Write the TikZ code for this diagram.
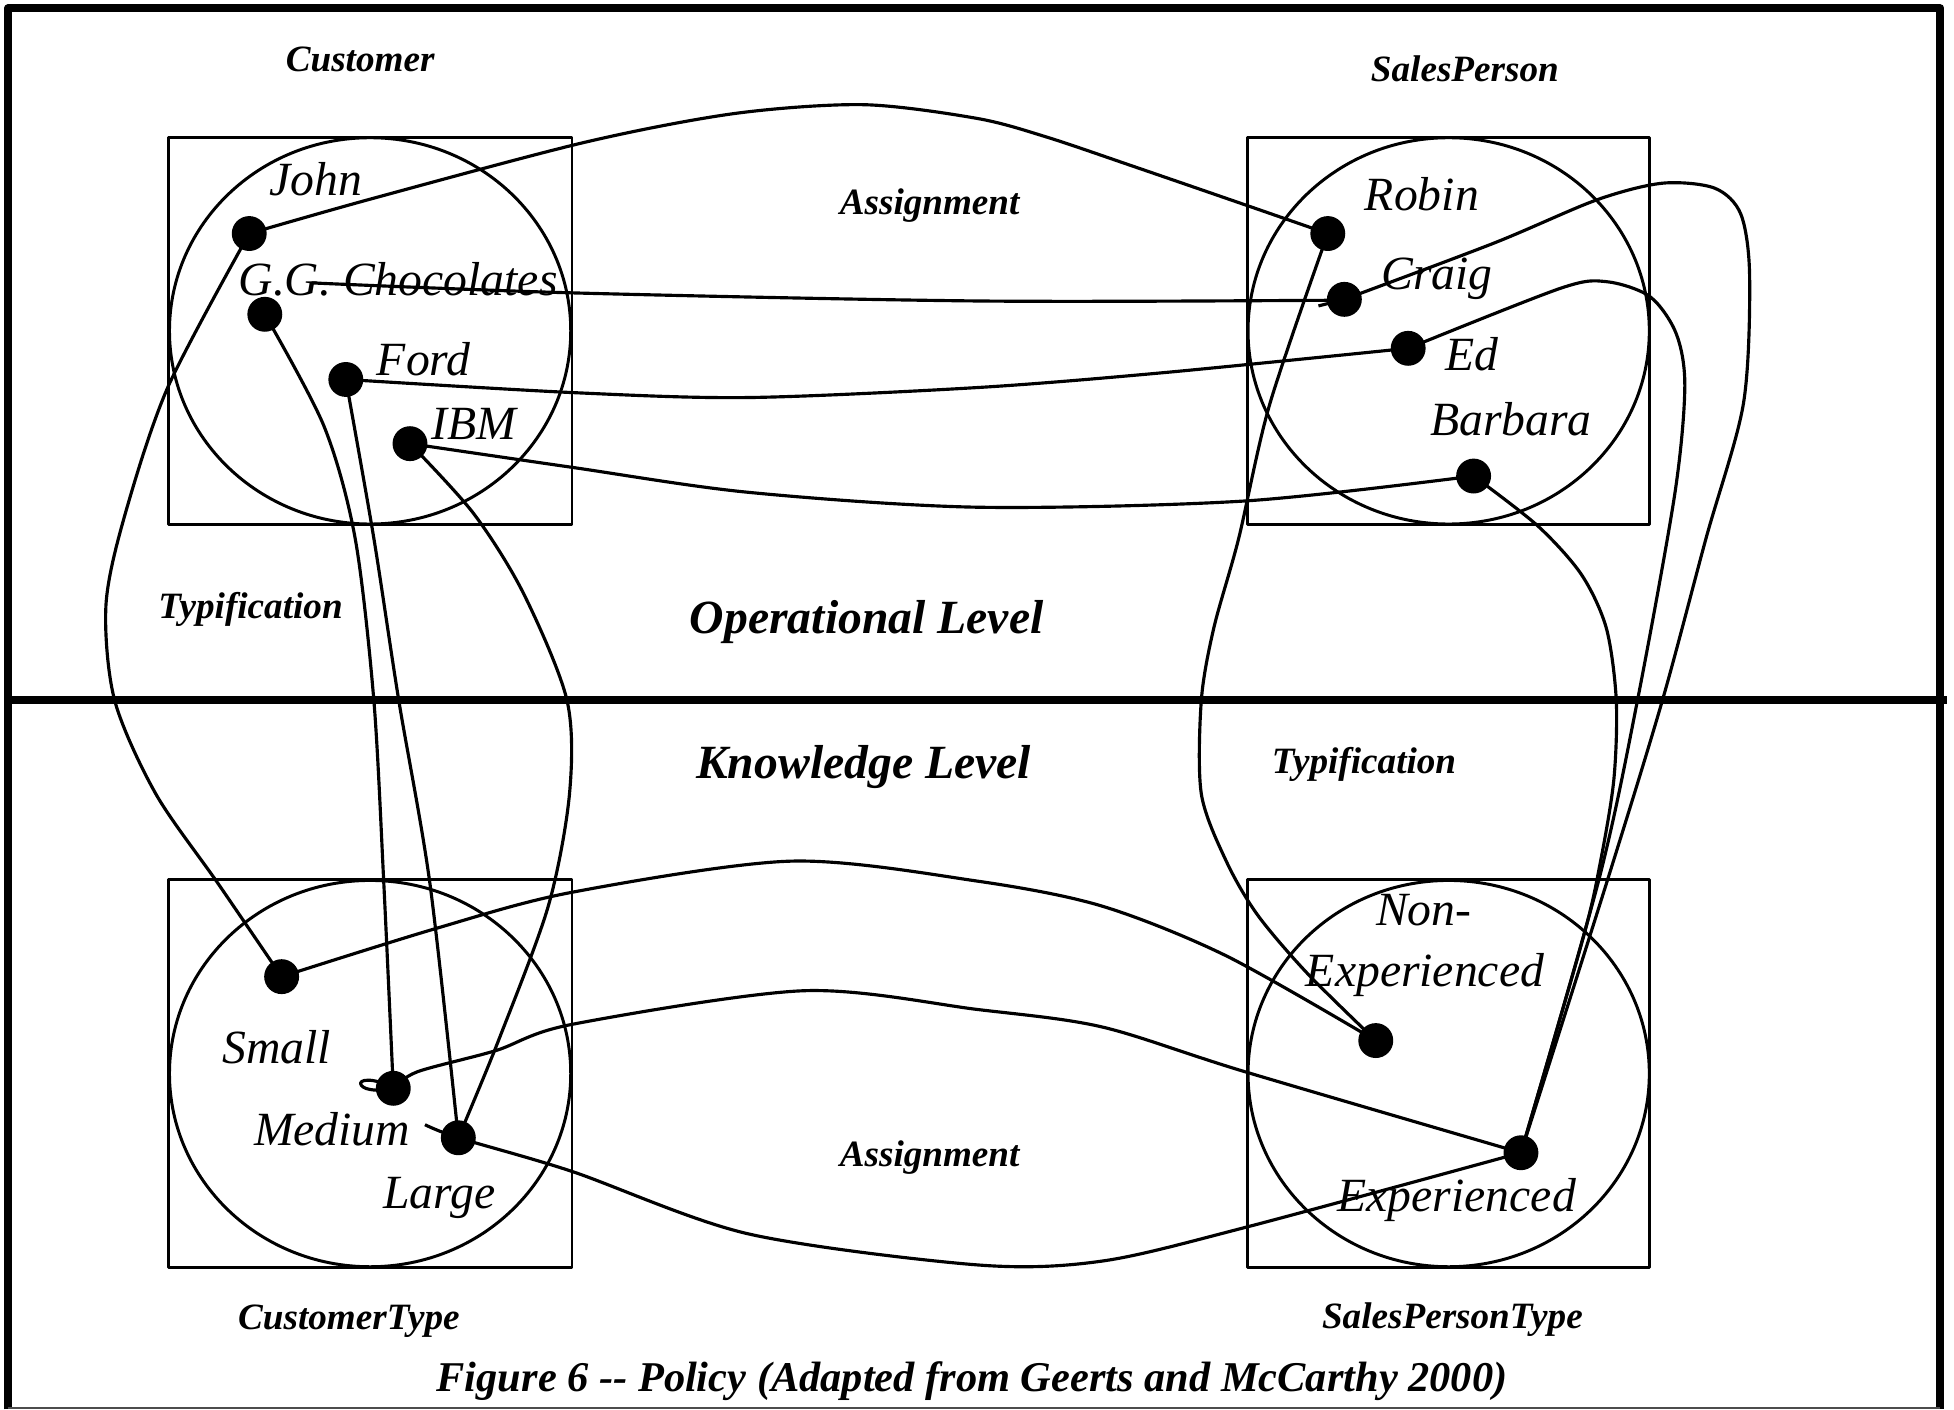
\documentclass[tikz,border=0pt]{standalone}
\usepackage{fontspec}
\setmainfont{Liberation Serif}
\begin{document}
\begin{tikzpicture}[x=0.0125cm,y=-0.0125cm,line join=round,
  frame/.style={line width=2.3pt},
  box/.style={line width=0.85pt},
  link/.style={line width=0.9pt},
  dot/.style={circle,fill=black,inner sep=0pt,minimum size=0.35cm},
  item/.style={anchor=base,inner sep=0pt,font=\fontsize{13.6}{16.7}\selectfont\itshape},
  tag/.style={anchor=base,inner sep=0pt,font=\fontsize{10.6}{12}\selectfont\bfseries\itshape},
  level/.style={anchor=base,inner sep=0pt,font=\fontsize{13.6}{16}\selectfont\bfseries\itshape},
  caption/.style={anchor=base,inner sep=0pt,font=\fontsize{12.1}{14}\selectfont\bfseries\itshape}]
\useasboundingbox (0,0) rectangle (1568,1131);

% outer frame and level divider
\draw[frame] (6.4,1131) -- (6.4,6.7) -- (1557,6.7) -- (1557,1131);
\draw[line width=0.6pt,black!70] (6.4,1129.5) -- (1557,1129.5);
\draw[frame] (6.4,562) -- (1562,562);

% type boxes with their extension ellipses
\draw[box] (135,110) rectangle (459,421);
\draw[box] (297,265.5) ellipse [x radius=161, y radius=155];
\draw[box] (1001,110) rectangle (1324,421);
\draw[box] (1162.5,265.5) ellipse [x radius=161, y radius=155];
\draw[box] (135,706) rectangle (459,1017);
\draw[box] (297,861.5) ellipse [x radius=161, y radius=155];
\draw[box] (1001,706) rectangle (1324,1017);
\draw[box] (1162.5,861.5) ellipse [x radius=161, y radius=155];

% headings
\node[tag] (tcust) at (289,57) {Customer};
\node[tag] (tsp) at (1175.5,65.6) {SalesPerson};
\node[tag] (tassign1) at (746,172) {Assignment};
\node[tag] (ttyp1) at (201,496.5) {Typification};
\node[level] (lop) at (695.5,508) {Operational Level};
\node[level] (lkn) at (693,624.5) {Knowledge Level};
\node[tag] (ttyp2) at (1094.5,620.8) {Typification};
\node[tag] (tassign2) at (746,936) {Assignment};
\node[tag] (tctype) at (280,1067) {CustomerType};
\node[tag] (tsptype) at (1165.5,1066) {SalesPersonType};
\node[caption] (cap) at (780,1117) {Figure 6 -{}- Policy (Adapted from Geerts and McCarthy 2000)};

% member labels
\node[item] (ljohn) at (253.5,156.7) {John};
\node[item] (lgg) at (319.5,237) {G.G. Chocolates};
\node[item] (lford) at (340,301) {Ford};
\node[item] (libm) at (380,353) {IBM};
\node[item] (lrobin) at (1141,168.6) {Robin};
\node[item] (lcraig) at (1153,232.4) {Craig};
\node[item] (led) at (1181,297) {Ed};
\node[item] (lbarbara) at (1212.5,349.5) {Barbara};
\node[item] (lsmall) at (222,853) {Small};
\node[item] (lmedium) at (266.5,919) {Medium};
\node[item] (llarge) at (352.5,970) {Large};
\node[item] (lnon) at (1142.5,743) {Non-};
\node[item] (lnonexp) at (1143.5,792) {Experienced};
\node[item] (lexp) at (1169,972) {Experienced};

% member dots
\node[dot] (john) at (200,187.4) {};
\node[dot] (gg) at (212.5,252.2) {};
\node[dot] (ford) at (277.5,304.5) {};
\node[dot] (ibm) at (329,356) {};
\node[dot] (robin) at (1065.5,187.4) {};
\node[dot] (craig) at (1078.8,240.2) {};
\node[dot] (ed) at (1130,279.5) {};
\node[dot] (barbara) at (1182.5,382) {};
\node[dot] (small) at (226,783.7) {};
\node[dot] (medium) at (315.6,873.3) {};
\node[dot] (large) at (367.8,913) {};
\node[dot] (nonexp) at (1104,835) {};
\node[dot] (exp) at (1220.5,925) {};

\coordinate (ggend) at (250,227);
\coordinate (largetail) at (341,902.5);
\coordinate (craigtail) at (1058,245.5);

% assignments, operational level
\draw[link] plot[smooth] coordinates {(john.center) (300,159) (470,114) (590,91) (693,84) (784,95) (840,110) (911,134) (1001,165) (robin.center)};
\draw[link] plot[smooth] coordinates {(ggend) (459,235) (784,241.5) (1060,241) (craig.center)};
\draw[link] (craig.center) -- (craigtail);
\draw[link] plot[smooth] coordinates {(ford.center) (459,315) (600,319) (784,311) (934,299) (ed.center)};
\draw[link] plot[smooth] coordinates {(ibm.center) (459,375) (600,395) (784,407) (999,402) (barbara.center)};

% assignments, knowledge level
\draw[link] plot[smooth] coordinates {(small.center) (350,745) (459,716) (635,691) (784,707) (884,727) (984,767) (nonexp.center)};
\draw[link] plot[smooth] coordinates {(exp.center) (999,860) (884,824) (784,810) (645,795) (459,822) (398,843) (335,860) (medium.center)};
\draw[link] (medium.center) .. controls (300,864) and (286,866) .. (290,871) .. controls (293,875) and (305,876) .. (medium.center);
\draw[link] plot[smooth] coordinates {(largetail) (large.center) (459,940) (600,990) (784,1015) (884,1012) (999,985) (exp.center)};

% typifications, customers
\draw[link] plot[smooth] coordinates {(john.center) (135,310) (100,414) (85,486) (92,562) (125,637) (175,709) (small.center)};
\draw[link] plot[smooth] coordinates {(gg.center) (260,342) (285,432) (300,562) (308,709) (medium.center)};
\draw[link] plot[smooth] coordinates {(ford.center) (300,432) (320,562) (345,709) (large.center)};
\draw[link] plot[smooth] coordinates {(ibm.center) (380,412) (420,476) (455,562) (457,637) (440,727) (400,835) (large.center)};

% typifications, sales persons
\draw[link] plot[smooth] coordinates {(robin.center) (1019,324) (994,432) (974,504) (964,562) (964,637) (984,691) (1009,734) (1049,781) (nonexp.center)};
\draw[link] plot[smooth] coordinates {(craig.center) (1199,195) (1281,160.5) (1334,147) (1376,151) (1397,172) (1404,222) (1399,324) (1369,432) (1334,562) (1290,706) (exp.center)};
\draw[link] plot[smooth] coordinates {(ed.center) (1252,231.4) (1289,226) (1324,238) (1345,267.5) (1352,310) (1344,396) (1314,562) (1283,706) (exp.center)};
\draw[link] plot[smooth] coordinates {(barbara.center) (1234,422) (1269,461) (1289,504) (1297,562) (1295,626) (1284,693) (1270,754) (exp.center)};
\end{tikzpicture}
\end{document}
